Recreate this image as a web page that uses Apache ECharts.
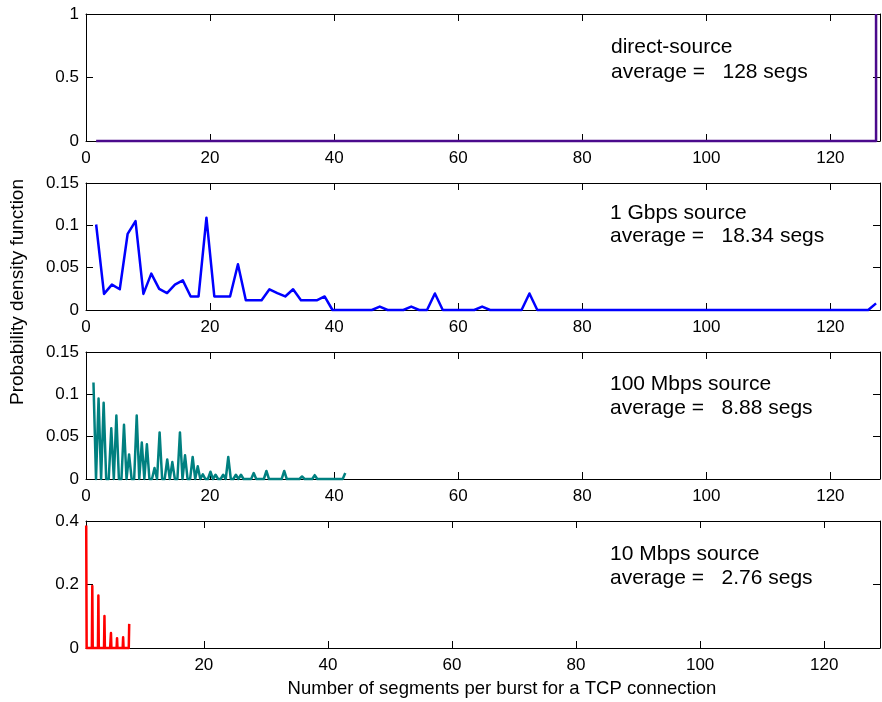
<!DOCTYPE html>
<html>
<head>
<meta charset="utf-8">
<script src="https://cdn.jsdelivr.net/npm/echarts@6/dist/echarts.min.js"></script>
<style>
  html, body { margin: 0; padding: 0; background: #ffffff; }
  #chart { width: 882px; height: 702px; }
</style>
</head>
<body>
<div id="chart"></div>
<script>
// Each source's burst sizes are binned into 100 equal-width bins over its own range.
const BIN_COUNT = 100;
const directRange = [1, 128];
const gbpsRange = [1, 128];
const mbps100Range = [1, 42];
const mbps10Range = [1, 8];

// direct-source: every burst carries 128 segments ([segments, probability])
const directSegments = [[128, 1]];

// 1 Gbps source: values of bins 0..29, then the few non-empty bins further right ([bin, value])
const gbpsHeadBins = [
  0.101, 0.019, 0.030, 0.0245, 0.090, 0.105, 0.019, 0.043, 0.025, 0.020,
  0.030, 0.035, 0.016, 0.016, 0.109, 0.016, 0.016, 0.016, 0.054, 0.0115,
  0.0115, 0.0115, 0.0245, 0.020, 0.016, 0.0245, 0.0115, 0.0115, 0.0115, 0.016
];
const gbpsTailBins = [[36, 0.004], [40, 0.004], [43, 0.0195], [49, 0.004], [55, 0.0195], [99, 0.0078]];

// 100 Mbps source: probability of a burst of 1, 2, ... 42 segments
const mbps100Probs = [
  0.114, 0.095, 0.090, 0.060, 0.075, 0.064, 0.029, 0.075, 0.043, 0.041,
  0.013, 0.055, 0.023, 0.020, 0.055, 0.028, 0.026, 0.015, 0.0055, 0.0086,
  0.005, 0.005, 0.026, 0.005, 0.005, 0, 0.007, 0, 0.0095, 0,
  0, 0.0095, 0, 0, 0.003, 0, 0.0045, 0, 0, 0,
  0, 0.007
];

// 10 Mbps source: probability of a burst of 1 .. 8 segments
const mbps10Probs = [0.386, 0.195, 0.165, 0.101, 0.047, 0.031, 0.034, 0.076];

const xTickValues = [0, 20, 40, 60, 80, 100, 120];
const xTickValuesFrom20 = [20, 40, 60, 80, 100, 120];

const panelLabels = [
  ['direct-source', 'average =   128 segs'],
  ['1 Gbps source', 'average =   18.34 segs'],
  ['100 Mbps source', 'average =   8.88 segs'],
  ['10 Mbps source', 'average =   2.76 segs']
];
const xAxisTitle = 'Number of segments per burst for a TCP connection';
const yAxisTitle = 'Probability density function';

// ---- histogram helpers ----
function binWidth(range) { return (range[1] - range[0]) / BIN_COUNT; }
function binCenters(range) {
  const w = binWidth(range);
  return Array.from({ length: BIN_COUNT }, (_, i) => range[0] + w * (i + 0.5));
}
function binIndex(range, v) {
  return Math.min(BIN_COUNT - 1, Math.floor((v - range[0]) / binWidth(range) + 1e-9));
}
function binsFromSegments(range, pairs) {
  const bins = new Array(BIN_COUNT).fill(0);
  pairs.forEach(([k, p]) => { bins[binIndex(range, k)] += p; });
  return bins;
}
function lineFromBins(range, bins) {
  return binCenters(range).map((x, i) => [x, bins[i]]);
}

const gbpsBins = new Array(BIN_COUNT).fill(0);
gbpsHeadBins.forEach((v, i) => { gbpsBins[i] = v; });
gbpsTailBins.forEach(([i, v]) => { gbpsBins[i] = v; });

const panels = [
  { data: lineFromBins(directRange, binsFromSegments(directRange, directSegments)), step: 'end',
    color: '#4b0a8c', yMax: 1, yStep: 0.5, xMin: 0, xMax: 128, ticks: xTickValues },
  { data: lineFromBins(gbpsRange, gbpsBins), step: false,
    color: '#0000ff', yMax: 0.15, yStep: 0.05, xMin: 0, xMax: 128, ticks: xTickValues },
  { data: lineFromBins(mbps100Range, binsFromSegments(mbps100Range, mbps100Probs.map((p, i) => [i + 1, p]))), step: false,
    color: '#008080', yMax: 0.15, yStep: 0.05, xMin: 0, xMax: 128, ticks: xTickValues },
  { data: lineFromBins(mbps10Range, binsFromSegments(mbps10Range, mbps10Probs.map((p, i) => [i + 1, p]))), step: false,
    color: '#ff0000', yMax: 0.4, yStep: 0.2, xMin: 1, xMax: 129, ticks: xTickValuesFrom20 }
];

// ---- layout ----
const FONT = "'Liberation Sans', Arial, Helvetica, sans-serif";
const gridTops = [14, 183, 352, 521];
const gridHeight = 127;
const gridLeft = 86;
const gridWidth = 794;
const labelLines = [[47, 72], [213, 236], [384, 408], [554, 578]];
const labelX = [611, 610, 610, 610];

const axisLine = { show: true, onZero: false, lineStyle: { color: '#000', width: 1 } };
const innerTick = { show: true, inside: true, length: 7, lineStyle: { color: '#000', width: 1 } };

const grid = [], xAxis = [], yAxis = [], series = [], graphic = [];

panels.forEach((p, i) => {
  grid.push({ left: gridLeft, top: gridTops[i], width: gridWidth, height: gridHeight });

  const xBase = {
    gridIndex: i, type: 'value', min: p.xMin, max: p.xMax,
    axisLine: axisLine, splitLine: { show: false }
  };
  xAxis.push(Object.assign({}, xBase, {
    position: 'bottom',
    axisTick: Object.assign({}, innerTick, { customValues: p.ticks }),
    axisLabel: { show: true, customValues: p.ticks, fontSize: 17, fontFamily: FONT, color: '#000', margin: 9 }
  }));
  xAxis.push(Object.assign({}, xBase, {
    position: 'top',
    axisTick: Object.assign({}, innerTick, { customValues: p.ticks }),
    axisLabel: { show: false, customValues: p.ticks }
  }));

  const yBase = {
    gridIndex: i, type: 'value', min: 0, max: p.yMax, interval: p.yStep,
    axisLine: axisLine, splitLine: { show: false }, axisTick: innerTick
  };
  yAxis.push(Object.assign({}, yBase, {
    position: 'left',
    axisLabel: {
      show: true, fontSize: 17, fontFamily: FONT, color: '#000', margin: 7,
      formatter: v => String(parseFloat(Number(v).toFixed(3)))
    }
  }));
  yAxis.push(Object.assign({}, yBase, { position: 'right', axisLabel: { show: false } }));

  series.push({
    type: 'line', xAxisIndex: 2 * i, yAxisIndex: 2 * i,
    data: p.data, step: p.step, showSymbol: false, symbol: 'none', clip: false,
    lineStyle: { color: p.color, width: 2.5, join: 'round', cap: 'butt' },
    itemStyle: { color: p.color },
    z: 5
  });

  panelLabels[i].forEach((t, j) => {
    graphic.push({
      type: 'text', x: labelX[i], y: labelLines[i][j], z: 10,
      style: { text: t, fontSize: 21, fontFamily: FONT, fill: '#000', align: 'left', verticalAlign: 'middle' }
    });
  });
});

graphic.push({
  type: 'text', x: 502, y: 689, z: 10,
  style: { text: xAxisTitle, fontSize: 18.5, fontFamily: FONT, fill: '#000', align: 'center', verticalAlign: 'middle' }
});
graphic.push({
  type: 'text', x: 18, y: 292, rotation: Math.PI / 2, z: 10,
  style: { text: yAxisTitle, fontSize: 19, fontFamily: FONT, fill: '#000', align: 'center', verticalAlign: 'middle' }
});

const chart = echarts.init(document.getElementById('chart'), null, { renderer: 'canvas' });
chart.setOption({
  animation: false,
  backgroundColor: '#ffffff',
  grid, xAxis, yAxis, series, graphic
});
</script>
</body>
</html>
